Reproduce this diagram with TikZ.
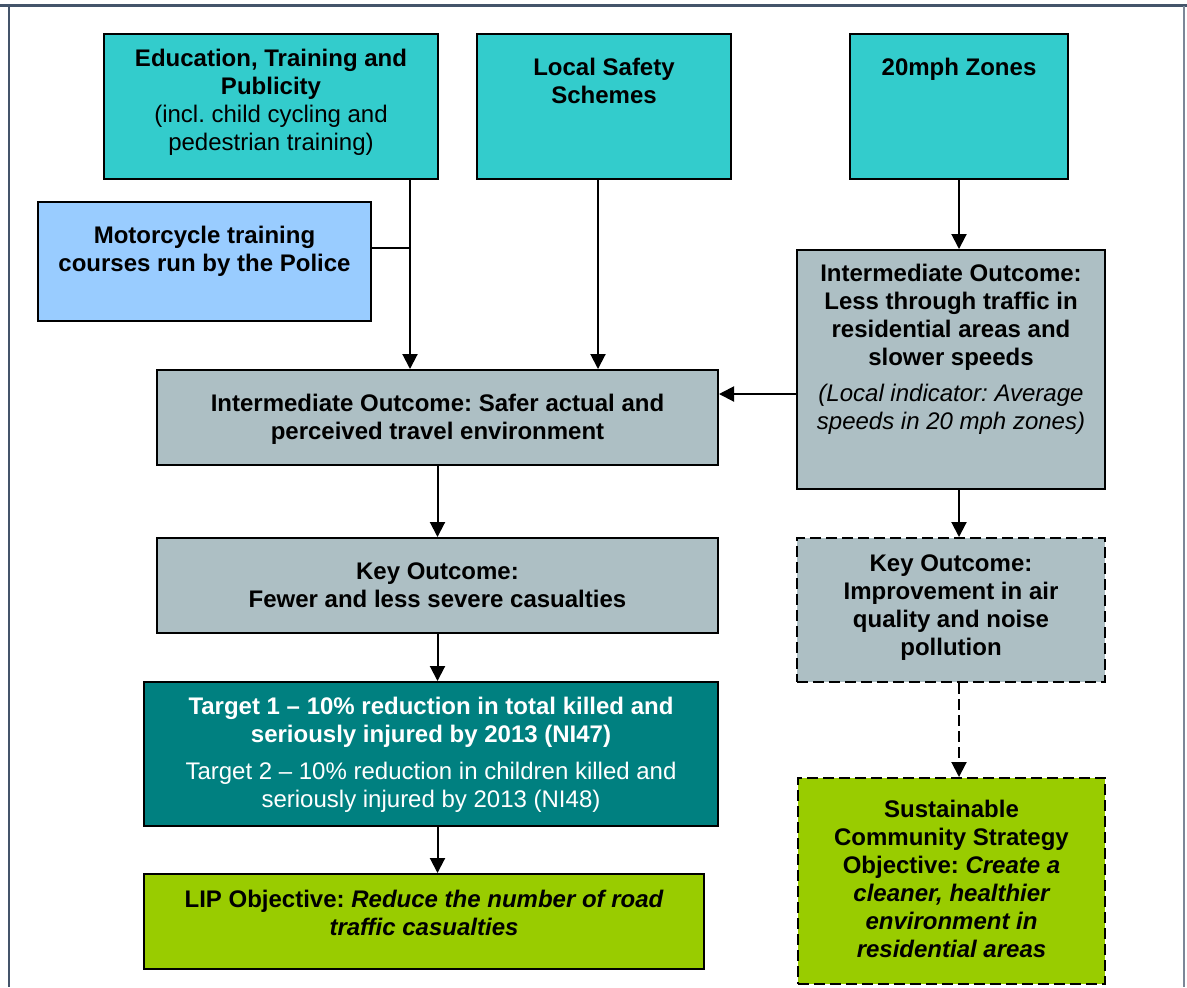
\documentclass[tikz,border=0pt]{standalone}
\usepackage{fontspec}
\setmainfont{Liberation Sans}
\usetikzlibrary{arrows.meta}
\definecolor{turq}{HTML}{33CCCC}
\definecolor{skyb}{HTML}{99CCFF}
\definecolor{slate}{HTML}{ADBFC4}
\definecolor{darkteal}{HTML}{008080}
\definecolor{lime}{HTML}{99CC00}
\definecolor{framec}{HTML}{44546A}
\frenchspacing
% text of a box: width, height, gap above first line, lines
\newcommand{\boxtext}[4]{\parbox[c][#2][t]{#1}{\centering\vspace*{#3}\strut #4}}

\begin{document}
\begin{tikzpicture}[x=0.5pt,y=-0.5pt,
    font=\fontsize{12}{14}\selectfont,
    box/.style={draw,line width=1pt,inner sep=0pt,anchor=north west},
    dashbox/.style={dash pattern=on 5.5pt off 2.5pt},
    >={Triangle[length=7.5pt,width=7.5pt]}]
      \useasboundingbox (0,0) rectangle (1187,987);
      \draw[framec,line width=1.5pt] (0,5) -- (1187,5);
      \draw[framec,line width=1pt] (9,6) -- (9,987);
      \draw[framec!70,line width=1.2pt] (1184,6) -- (1184,987);

      \node[box,fill=turq] (edu) at (103,33) {\boxtext{167pt}{72.5pt}{6.2pt}{\bfseries Education, Training and\\ Publicity\\ \mdseries (incl. child cycling and\\ pedestrian training)}};
      \node[box,fill=turq] (lss) at (476,33) {\boxtext{127pt}{72.5pt}{10.7pt}{\bfseries Local Safety\\ Schemes}};
      \node[box,fill=turq] (zon) at (849,33) {\boxtext{109pt}{72.5pt}{10.7pt}{\bfseries 20mph Zones}};
      \node[box,fill=skyb] (mot) at (37,201) {\boxtext{166.5pt}{59.5pt}{10.7pt}{\bfseries Motorcycle training\\ courses run by the Police}};

      \node[box,fill=slate] (int1) at (156,369) {\boxtext{280.5pt}{47.5pt}{10.7pt}{\bfseries Intermediate Outcome: Safer actual and\\ perceived travel environment}};
      \node[box,fill=slate] (int2) at (796,249) {\boxtext{154pt}{119.5pt}{5.7pt}{\bfseries Intermediate Outcome:\\ Less through traffic in\\ residential areas and\\ slower speeds\\[4pt] \mdseries\itshape (Local indicator: Average\\ speeds in 20 mph zones)}};
      \node[box,fill=slate] (key1) at (156,537) {\boxtext{280.5pt}{47.5pt}{10.7pt}{\bfseries Key Outcome:\\ Fewer and less severe casualties}};
      \node[box,fill=slate,dashbox] (key2) at (796,537) {\boxtext{154pt}{72pt}{6.7pt}{\bfseries Key Outcome:\\ Improvement in air\\ quality and noise\\ pollution}};

      \node[box,fill=darkteal,text=white] (tgt) at (143,681) {\boxtext{287pt}{72pt}{6.2pt}{\bfseries Target 1 -- 10\% reduction in total killed and\\ seriously injured by 2013 (NI47)\\[4.5pt] \mdseries Target 2 -- 10\% reduction in children killed and\\ seriously injured by 2013 (NI48)}};
      \node[box,fill=lime] (lip) at (143,873) {\boxtext{280pt}{47.5pt}{6.7pt}{\bfseries LIP Objective: \itshape Reduce the number of road\\ traffic casualties}};
      \node[box,fill=lime,dashbox] (scs) at (797,777) {\boxtext{153.5pt}{103pt}{9.7pt}{\bfseries Sustainable\\ Community Strategy\\ Objective: \itshape Create a\\ cleaner, healthier\\ environment in\\ residential areas}};

      \coordinate (j1) at (410,248);
      \draw[line width=1pt] (j1 -| mot.east) -- (j1);
      \draw[->,line width=1pt] (edu.south -| j1) -- (int1.north -| j1);
      \draw[->,line width=1pt] ([xshift=-3pt]lss.south) -- ([xshift=-3pt]lss.south |- int1.north);
      \draw[->,line width=1pt] (zon.south) -- (zon.south |- int2.north);
      \draw[->,line width=1pt] ([yshift=-12.25pt]int2.west) -- ([yshift=-12.25pt]int2.west -| int1.east);
      \draw[->,line width=1pt] (int1.south) -- (key1.north);
      \draw[->,line width=1pt] (key1.south) -- (key1.south |- tgt.north);
      \draw[->,line width=1pt] (key1.south |- tgt.south) -- (key1.south |- lip.north);
      \draw[->,line width=1pt] (zon.south |- int2.south) -- (zon.south |- key2.north);
      \draw[->,line width=1pt,dashbox] (zon.south |- key2.south) -- (zon.south |- scs.north);
    \end{tikzpicture}
\end{document}
